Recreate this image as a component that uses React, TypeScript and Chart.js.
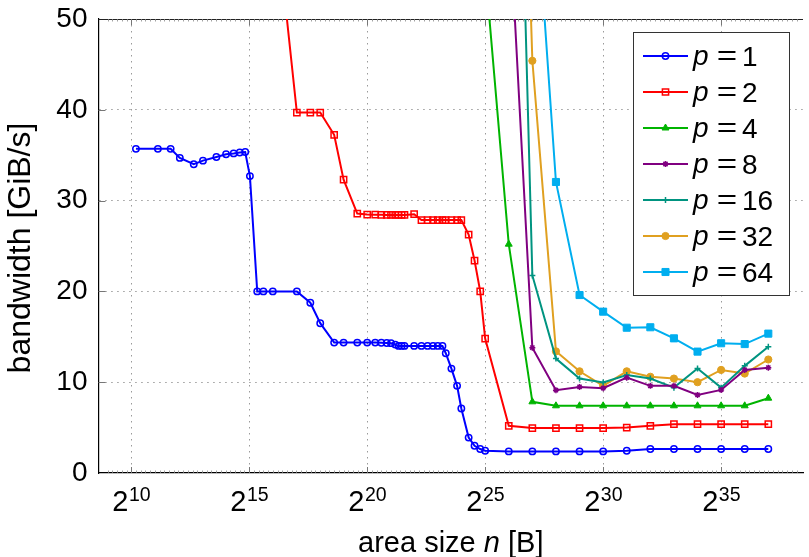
import React, { useEffect, useRef } from 'react';
import { Chart, registerables } from 'chart.js';
import { drawPoint } from 'chart.js/helpers';

Chart.register(...registerables);

const FONT = '"Liberation Sans", Helvetica, Arial, sans-serif';

// tick values (x is log2 of area size)
const xTickValues = [10, 15, 20, 25, 30, 35];
const yTickValues = [0, 10, 20, 30, 40, 50];

// p = 1
const x1 = [10.2, 11.13, 11.67, 12.06, 12.65, 13.04, 13.61, 14.02, 14.34, 14.6, 14.83, 15.03, 15.34, 15.6, 16.0,
  17.02, 17.59, 18.01, 18.6, 19.0, 19.58, 20.0, 20.34, 20.6, 20.83, 21.01, 21.19, 21.33, 21.46, 21.58, 21.99,
  22.3, 22.56, 22.79, 22.99, 23.19, 23.33, 23.57, 23.81, 23.99, 24.3, 24.55, 24.79, 25.0,
  26, 27, 28, 29, 30, 31, 32, 33, 34, 35, 36, 37];
const y1 = [35.7, 35.7, 35.7, 34.7, 34.0, 34.4, 34.8, 35.1, 35.2, 35.3, 35.35, 32.7, 20.0, 20.0, 20.0,
  20.0, 18.75, 16.5, 14.36, 14.36, 14.36, 14.36, 14.36, 14.34, 14.32, 14.3, 14.14, 14.0, 14.0, 14.0, 14.0,
  14.0, 14.0, 14.0, 14.0, 14.0, 13.19, 11.5, 9.6, 7.1, 3.9, 3.0, 2.64, 2.45,
  2.38, 2.38, 2.38, 2.38, 2.38, 2.45, 2.64, 2.64, 2.64, 2.64, 2.64, 2.64];

// p = 2
const x2 = [16.0, 17.02, 17.59, 18.01, 18.6, 19.0, 19.58, 20.0, 20.34, 20.6, 20.83, 21.01, 21.19, 21.33, 21.46, 21.58, 21.99,
  22.3, 22.56, 22.79, 22.99, 23.19, 23.33, 23.57, 23.81, 23.99, 24.3, 24.55, 24.79, 25.0,
  26, 27, 28, 29, 30, 31, 32, 33, 34, 35, 36, 37];
const y2 = [64.6, 39.7, 39.7, 39.7, 37.25, 32.3, 28.57, 28.46, 28.45, 28.43, 28.42, 28.42, 28.42, 28.42, 28.42, 28.42, 28.5,
  27.85, 27.85, 27.85, 27.85, 27.85, 27.85, 27.85, 27.85, 27.85, 26.26, 23.4, 20.0, 14.8,
  5.2, 4.95, 4.95, 4.95, 4.95, 5.0, 5.2, 5.38, 5.38, 5.38, 5.38, 5.38];

// p = 4
const x4 = [25, 26, 27, 28, 29, 30, 31, 32, 33, 34, 35, 36, 37];
const y4 = [55.5, 25.2, 7.84, 7.4, 7.4, 7.4, 7.4, 7.4, 7.4, 7.4, 7.4, 7.4, 8.24];

// p = 8
const x8 = [26, 27, 28, 29, 30, 31, 32, 33, 34, 35, 36, 37];
const y8 = [62.7, 13.8, 9.12, 9.48, 9.34, 10.5, 9.6, 9.6, 8.6, 9.15, 11.35, 11.6];

// p = 16
const x16 = [26, 27, 28, 29, 30, 31, 32, 33, 34, 35, 36, 37];
const y16 = [118, 21.76, 12.6, 10.4, 9.96, 10.8, 10.4, 9.4, 11.5, 9.4, 11.8, 13.9];

// p = 32
const x32 = [26, 27, 28, 29, 30, 31, 32, 33, 34, 35, 36, 37];
const y32 = [127, 45.4, 13.4, 11.2, 9.6, 11.2, 10.6, 10.4, 10.0, 11.35, 10.95, 12.5];

// p = 64
const x64 = [27, 28, 29, 30, 31, 32, 33, 34, 35, 36, 37];
const y64 = [69.4, 32.05, 19.6, 17.77, 16.0, 16.05, 14.83, 13.37, 14.29, 14.2, 15.35];

const pLabels = ['1', '2', '4', '8', '16', '32', '64'];

const pts = (xs: number[], ys: number[]) => xs.map((x, i) => ({ x, y: ys[i] }));

const styles = [
  { color: '#0000ff', pointStyle: 'circle', radius: 3.2, fill: 'rgba(0,0,0,0)', pbw: 1.5 },
  { color: '#ff0000', pointStyle: 'rect', radius: 4.4, fill: 'rgba(0,0,0,0)', pbw: 1.5 },
  { color: '#00b400', pointStyle: 'triangle', radius: 4, fill: '#00b400', pbw: 1 },
  { color: '#800080', pointStyle: 'star', radius: 3, fill: '#800080', pbw: 1.5 },
  { color: '#009480', pointStyle: 'cross', radius: 3, fill: '#009480', pbw: 1.5 },
  { color: '#e0a020', pointStyle: 'circle', radius: 3.6, fill: '#e0a020', pbw: 1 },
  { color: '#00aeef', pointStyle: 'rect', radius: 5, fill: '#00aeef', pbw: 1 },
];

const decorPlugin = {
  id: 'decor',
  beforeDatasetsDraw(chart: any) {
    const { ctx, chartArea } = chart;
    const xs = chart.scales.x;
    const ys = chart.scales.y;
    ctx.save();
    // top border
    ctx.strokeStyle = '#222';
    ctx.lineWidth = 1;
    ctx.beginPath();
    ctx.moveTo(chartArea.left, chartArea.top + 0.5);
    ctx.lineTo(chartArea.right, chartArea.top + 0.5);
    ctx.stroke();
    // minor ticks top / bottom
    ctx.strokeStyle = '#888';
    ctx.lineWidth = 0.8;
    for (let v = 9; v <= 38.4; v += 0.2) {
      const px = Math.round(xs.getPixelForValue(v)) + 0.5;
      if (px <= chartArea.left + 1 || px >= chartArea.right) continue;
      ctx.beginPath();
      ctx.moveTo(px, chartArea.bottom);
      ctx.lineTo(px, chartArea.bottom - 2.5);
      ctx.moveTo(px, chartArea.top);
      ctx.lineTo(px, chartArea.top + 2.5);
      ctx.stroke();
    }
    // major ticks
    ctx.strokeStyle = '#777';
    ctx.lineWidth = 1;
    xTickValues.forEach((v) => {
      const px = Math.round(xs.getPixelForValue(v)) + 0.5;
      ctx.beginPath();
      ctx.moveTo(px, chartArea.bottom);
      ctx.lineTo(px, chartArea.bottom - 6);
      ctx.moveTo(px, chartArea.top);
      ctx.lineTo(px, chartArea.top + 6);
      ctx.stroke();
    });
    yTickValues.forEach((v) => {
      if (v === 0 || v === 50) return;
      const py = Math.round(ys.getPixelForValue(v)) + 0.5;
      ctx.beginPath();
      ctx.moveTo(chartArea.left, py);
      ctx.lineTo(chartArea.left + 7, py);
      ctx.stroke();
    });
    ctx.restore();
  },
  afterDatasetsDraw(chart: any) {
    const { ctx, chartArea } = chart;
    const xs = chart.scales.x;
    ctx.save();
    ctx.fillStyle = '#000';
    ctx.textBaseline = 'alphabetic';
    ctx.textAlign = 'left';
    // x tick labels with exponents
    xTickValues.forEach((v) => {
      const px = xs.getPixelForValue(v);
      ctx.font = `29px ${FONT}`;
      const w2 = ctx.measureText('2').width;
      ctx.font = `19.5px ${FONT}`;
      const we = ctx.measureText(String(v)).width;
      const start = px - (w2 + we) / 2;
      ctx.font = `29px ${FONT}`;
      ctx.fillText('2', start, chartArea.bottom + 37.7);
      ctx.font = `19.5px ${FONT}`;
      ctx.fillText(String(v), start + w2 + 0.5, chartArea.bottom + 27.7);
    });
    // x title
    {
      const a = 'area size ';
      const n = 'n';
      const b = ' [B]';
      const f = 29;
      ctx.font = `${f}px ${FONT}`;
      const wa = ctx.measureText(a).width;
      const wb = ctx.measureText(b).width;
      ctx.font = `italic ${f}px ${FONT}`;
      const wn = ctx.measureText(n).width;
      const total = wa + wn + wb;
      const cx = (chartArea.left + chartArea.right) / 2;
      let x = cx - total / 2;
      const base = chartArea.bottom + 78.7;
      ctx.font = `${f}px ${FONT}`;
      ctx.fillText(a, x, base);
      x += wa;
      ctx.font = `italic ${f}px ${FONT}`;
      ctx.fillText(n, x, base);
      x += wn;
      ctx.font = `${f}px ${FONT}`;
      ctx.fillText(b, x, base);
    }
    // y title
    ctx.save();
    ctx.translate(30, (chartArea.top + chartArea.bottom) / 2 + 2);
    ctx.rotate(-Math.PI / 2);
    ctx.textAlign = 'center';
    ctx.font = `32px ${FONT}`;
    ctx.fillText('bandwidth [GiB/s]', 0, 0);
    ctx.restore();

    // legend
    const lx = 633, ly = 32, lw = 156, lh = 263;
    ctx.fillStyle = '#fff';
    ctx.fillRect(lx, ly, lw, lh);
    ctx.strokeStyle = '#333';
    ctx.lineWidth = 1;
    ctx.strokeRect(lx + 0.5, ly + 0.5, lw, lh);
    chart.data.datasets.forEach((ds: any, i: number) => {
      const st = styles[i];
      const cy = 56 + i * 36;
      ctx.strokeStyle = st.color;
      ctx.lineWidth = 2;
      ctx.beginPath();
      ctx.moveTo(643, cy);
      ctx.lineTo(688, cy);
      ctx.stroke();
      ctx.fillStyle = st.fill;
      ctx.strokeStyle = st.color;
      ctx.lineWidth = st.pbw;
      drawPoint(ctx, { pointStyle: st.pointStyle, rotation: 0, radius: st.radius, borderWidth: st.pbw } as any, 665.5, cy);
      ctx.fillStyle = '#000';
      ctx.textAlign = 'left';
      ctx.font = `italic 28px ${FONT}`;
      ctx.fillText('p', 693, cy + 9);
      ctx.save();
      ctx.translate(727, cy + 9);
      ctx.scale(1.25, 1);
      ctx.textAlign = 'center';
      ctx.font = `28px ${FONT}`;
      ctx.fillText('=', 0, 0);
      ctx.restore();
      ctx.textAlign = 'left';
      ctx.font = `28px ${FONT}`;
      ctx.fillText(pLabels[i], 742, cy + 10);
    });
    ctx.restore();
  },
};

export default function App() {
  const ref = useRef<HTMLCanvasElement | null>(null);

  useEffect(() => {
    if (!ref.current) return;
    const series = [pts(x1, y1), pts(x2, y2), pts(x4, y4), pts(x8, y8), pts(x16, y16), pts(x32, y32), pts(x64, y64)];
    const chart = new Chart(ref.current, {
      type: 'line',
      data: {
        datasets: series.map((d, i) => ({
          label: 'p=' + pLabels[i],
          data: d,
          borderColor: styles[i].color,
          backgroundColor: styles[i].fill,
          pointBackgroundColor: styles[i].fill,
          pointBorderColor: styles[i].color,
          pointStyle: styles[i].pointStyle as any,
          pointRadius: styles[i].radius,
          pointBorderWidth: styles[i].pbw,
          borderWidth: 2,
          tension: 0,
          fill: false,
        })),
      },
      options: {
        responsive: false,
        maintainAspectRatio: false,
        animation: false,
        events: [],
        layout: { padding: { top: 19, right: 0, left: 0, bottom: 0 } },
        plugins: { legend: { display: false }, tooltip: { enabled: false } },
        scales: {
          x: {
            type: 'linear',
            min: 8.613,
            max: 38.47,
            afterBuildTicks: (s: any) => {
              s.ticks = xTickValues.map((v) => ({ value: v }));
            },
            afterFit: (s: any) => {
              s.height = 84;
              s.paddingLeft = 0;
              s.paddingRight = 0;
              s.paddingTop = 0;
              s.paddingBottom = 0;
            },
            ticks: { display: false },
            grid: { color: '#9a9a9a', lineWidth: 1, drawTicks: false },
            border: { color: '#000', width: 1.2, dash: [1.5, 4.5] },
          },
          y: {
            type: 'linear',
            min: 0,
            max: 50,
            afterBuildTicks: (s: any) => {
              s.ticks = yTickValues.map((v) => ({ value: v }));
            },
            afterFit: (s: any) => {
              s.width = 98.5;
              s.paddingTop = 0;
              s.paddingBottom = 0;
              s.paddingLeft = 0;
              s.paddingRight = 0;
            },
            ticks: {
              font: { family: FONT, size: 28 },
              color: '#000',
              padding: 11,
            },
            grid: {
              color: (c: any) => (c.tick && (c.tick.value === 0 || c.tick.value === 50) ? 'rgba(0,0,0,0)' : '#9a9a9a'),
              lineWidth: 1,
              drawTicks: false,
            },
            border: { color: '#000', width: 1.2, dash: [1.5, 4.5] },
          },
        },
      },
      plugins: [decorPlugin],
    } as any);
    return () => chart.destroy();
  }, []);

  return (
    <div style={{ position: 'fixed', left: 0, top: 0, width: 809, height: 557, background: '#fff' }}>
      <canvas ref={ref} width={809} height={557} style={{ display: 'block', width: 809, height: 557 }} />
    </div>
  );
}
